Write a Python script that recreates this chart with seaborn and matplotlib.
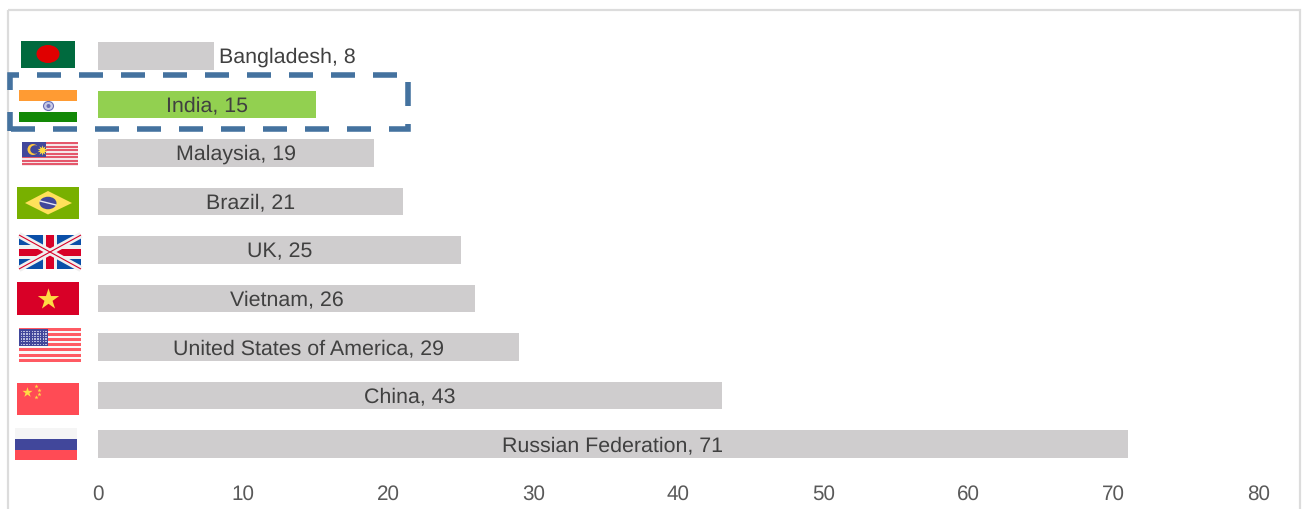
import matplotlib
matplotlib.use("Agg")
import matplotlib.pyplot as plt
from matplotlib.patches import Rectangle, Ellipse, Polygon
import seaborn as sns
import pandas as pd

countries = ["Bangladesh", "India", "Malaysia", "Brazil", "UK", "Vietnam",
             "United States of America", "China", "Russian Federation"]
values = [8, 15, 19, 21, 25, 26, 29, 43, 71]
highlight = "India"
x_ticks = [0, 10, 20, 30, 40, 50, 60, 70, 80]

GREY = "#CFCDCE"
GREEN = "#92D050"
W, H = 1302, 509

sns.set_theme(style="white")
plt.rcParams["font.family"] = ["Liberation Sans", "DejaVu Sans"]
plt.rcParams["text.hinting"] = "no_hinting"
plt.rcParams["text.hinting_factor"] = 8

fig = plt.figure(figsize=(W / 100, H / 100), dpi=100, facecolor="white")
ax = fig.add_axes([98 / W, 1 - 468.25 / H, (1258.6 - 98) / W, (468.25 - 31.75) / H])

df = pd.DataFrame({"country": countries, "value": values})
palette = {c: (GREEN if c == highlight else GREY) for c in countries}
sns.barplot(data=df, x="value", y="country", hue="country", palette=palette,
            order=countries, hue_order=countries, legend=False, width=0.557,
            saturation=1, linewidth=0, ax=ax)
ax.set_xlim(0, 80)
ax.set_ylim(8.5, -0.5)
ax.set_xticks(x_ticks)
ax.set_xlabel("")
ax.set_ylabel("")
ax.set_yticks([])
ax.tick_params(axis="x", length=0, pad=12, labelsize=14.9, labelcolor="#595959")
for s in ax.spines.values():
    s.set_visible(False)
ax.patch.set_alpha(0)

for container, c, v in zip(ax.containers, countries, values):
    outside = c == "Bangladesh"
    anns = ax.bar_label(container, labels=[f"{c}, {v}"],
                        label_type="edge" if outside else "center",
                        padding=3.5 if outside else 0,
                        fontsize=15.4, color="#404040")
    for a in anns:
        a.xyann = (a.xyann[0], a.xyann[1] - 1.2)

# Overlay in pixel coordinates: chart frame, flags, highlight box
ov = fig.add_axes([0, 0, 1, 1], facecolor="none")
ov.set_xlim(0, W)
ov.set_ylim(H, 0)
ov.axis("off")
ov.add_patch(Rectangle((8, 10), 1292, 520, fill=False, ec="#DCDCDC", lw=1.6))


def rect(x0, y0, x1, y1, color):
    ov.add_patch(Rectangle((x0, y0), x1 - x0, y1 - y0, fc=color, ec="none"))


def poly(points, color):
    ov.add_patch(Polygon(points, closed=True, fc=color, ec="none"))


def star(x, y, size, color="#FFDA44", marker="*"):
    ov.scatter([x], [y], marker=marker, s=size, c=color, linewidths=0)


# Bangladesh
rect(21, 41, 75, 68, "#006A3E")
ov.add_patch(Ellipse((48, 54), 23, 18, fc="#E00000", ec="none"))

# India
rect(19, 90, 77, 101, "#FF9B33")
rect(19, 112, 77, 122, "#128807")
ov.add_patch(Ellipse((48.5, 106), 10, 9, fc="#C9CBE6", ec="#6A6FB5", lw=0.8))
ov.add_patch(Ellipse((48.5, 106), 4, 4, fc="#6A6FB5", ec="none"))

# Malaysia
rect(22, 142, 78, 166, "#F5E6E8")
for i in range(7):
    y = 142 + i * 3.5
    rect(22, y, 78, y + 2, "#E4576B")
rect(22, 142, 45.5, 157, "#41479B")
ov.add_patch(Ellipse((33, 149.5), 11, 11, fc="#FFC83D", ec="none"))
ov.add_patch(Ellipse((35, 149.5), 9.5, 8.5, fc="#41479B", ec="none"))
star(42, 149.5, 55, marker=(10, 1, 0))

# Brazil
rect(17, 187, 79, 219, "#78B000")
poly([(25, 203), (48, 191), (72, 203), (48, 214.5)], "#FFE15A")
ov.add_patch(Ellipse((48, 203), 17, 12.5, fc="#41479B", ec="none"))
ov.plot([40, 56], [201, 205], color="#E8E8F4", lw=1)

# UK
rect(19, 235, 81, 269, "#0A4FA8")
ov.plot([19, 81], [235, 269], color="#F0F0F0", lw=4.5, solid_capstyle="butt")
ov.plot([19, 81], [269, 235], color="#F0F0F0", lw=4.5, solid_capstyle="butt")
ov.plot([19, 81], [235, 269], color="#D80027", lw=0.8, solid_capstyle="butt")
ov.plot([19, 81], [269, 235], color="#D80027", lw=0.8, solid_capstyle="butt")
rect(43, 235, 57, 269, "#F0F0F0")
rect(19, 245, 81, 259, "#F0F0F0")
rect(46, 235, 54, 269, "#D80027")
rect(19, 249, 81, 256, "#D80027")

# Vietnam
rect(17, 282, 79, 315, "#D80027")
star(48, 298.5, 260)

# USA
rect(19, 328, 81, 361, "#F8F8F8")
for i in range(7):
    y = 328 + i * 5.1
    rect(19, y, 81, y + 3, "#FF5A63")
rect(19, 329, 48, 346, "#41479B")
for row in range(6):
    for col in range(10):
        rect(20.5 + col * 2.75, 330.5 + row * 2.6, 22 + col * 2.75, 332 + row * 2.6, "#B9BCDD")

# China
rect(17, 383, 79, 415, "#FF4B55")
star(27, 391.5, 60)
for x, y in [(36, 386), (39, 390), (39, 394), (36, 397)]:
    star(x, y, 10)

# Russia
rect(15, 428, 77, 439, "#F5F5F5")
rect(15, 439, 77, 450, "#41479B")
rect(15, 450, 77, 460, "#FF4B55")

# Dashed highlight box around the India row
LW = 4.0
PX = 0.72 / LW
BOX = "#44729F"
ov.plot([37, 408, 408, 10], [74.7, 74.7, 129, 129],
        color=BOX, lw=LW, dashes=(24 * PX, 18 * PX),
        dash_capstyle="butt", dash_joinstyle="miter")
ov.plot([10, 10, 19], [90, 74.7, 74.7], color=BOX, lw=LW,
        solid_capstyle="butt", solid_joinstyle="miter")
ov.plot([10, 10], [112, 131], color=BOX, lw=LW, solid_capstyle="butt")

fig.savefig("out.png", dpi=100, facecolor="white")
